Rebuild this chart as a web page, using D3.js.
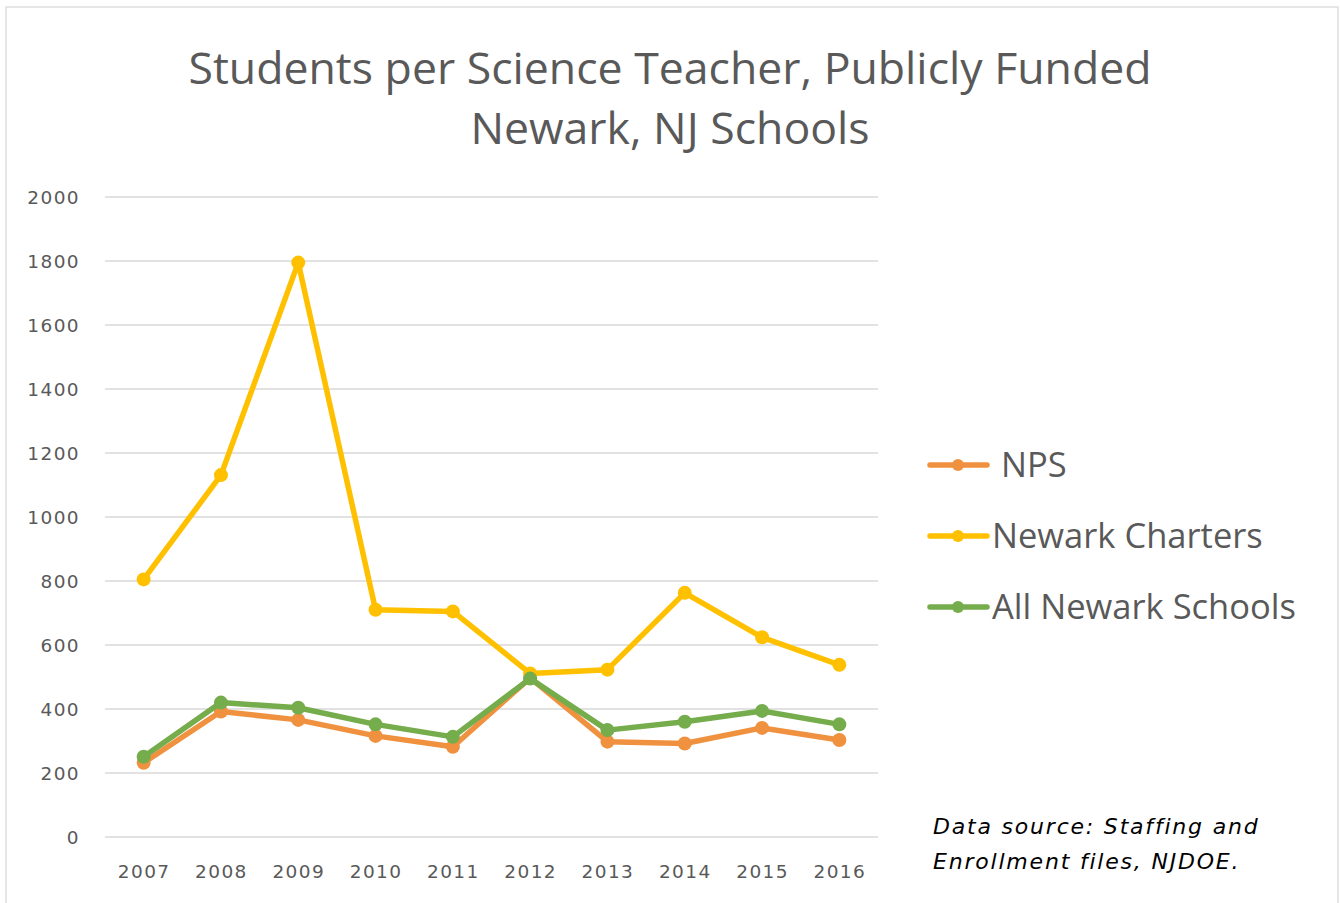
<!DOCTYPE html>
<html>
<head>
<meta charset="utf-8">
<script src="https://cdn.jsdelivr.net/npm/d3@7"></script>
<style>
  body { margin: 0; background: #fff; }
  .grid line { stroke: #d9d9d9; stroke-width: 1.3; }
  .axis text { fill: #595959; font-family: "DejaVu Sans", sans-serif; font-size: 18.5px; letter-spacing: 1.4px; }
</style>
</head>
<body>
<div id="chart"></div>
<script>
var years = ["2007", "2008", "2009", "2010", "2011", "2012", "2013", "2014", "2015", "2016"];
var yTicks = [0, 200, 400, 600, 800, 1000, 1200, 1400, 1600, 1800, 2000];
var nps = [232, 392, 366, 316, 282, 497, 298, 292, 341, 303];
var charters = [805, 1131, 1795, 710, 705, 511, 523, 763, 624, 538];
var allNewark = [251, 420, 404, 352, 313, 495, 334, 360, 394, 352];
var seriesNames = ["NPS", "Newark Charters", "All Newark Schools"];
var seriesColors = ["#F0913F", "#FFC000", "#75AC4C"];

var W = 1340, H = 903;
var margin = {top: 197, left: 105, right: 462, bottom: 66};
var width = W - margin.left - margin.right,
    height = H - margin.top - margin.bottom;

var svg = d3.select("#chart").append("svg")
  .attr("width", W)
  .attr("height", H);

/* outer chart border */
svg.append("rect")
  .attr("x", 6).attr("y", 7)
  .attr("width", 1332).attr("height", 905)
  .attr("fill", "none")
  .attr("stroke", "#d9d9d9")
  .attr("stroke-width", 1.3);

svg.append("text")
  .attr("x", 670).attr("y", 84)
  .attr("text-anchor", "middle")
  .attr("fill", "#595959")
  .style("font-family", "'Open Sans', sans-serif")
  .style("font-size", "44.6px")
  .text("Students per Science Teacher, Publicly Funded");
svg.append("text")
  .attr("x", 670).attr("y", 144)
  .attr("text-anchor", "middle")
  .attr("fill", "#595959")
  .style("font-family", "'Open Sans', sans-serif")
  .style("font-size", "44.6px")
  .text("Newark, NJ Schools");

var g = svg.append("g")
  .attr("transform", "translate(" + margin.left + "," + margin.top + ")");

var x = d3.scalePoint().domain(years).range([0, width]).padding(0.5),
    y = d3.scaleLinear().domain([0, 2000]).range([height, 0]);

g.append("g")
  .attr("class", "grid")
  .selectAll("line")
  .data(yTicks)
  .enter().append("line")
    .attr("x1", 0).attr("x2", width)
    .attr("y1", function(d) { return y(d); })
    .attr("y2", function(d) { return y(d); });

var yAxis = d3.axisLeft(y).tickValues(yTicks).tickFormat(d3.format("d"))
  .tickSize(0).tickPadding(25);
g.append("g").attr("class", "axis axis--y").call(yAxis)
  .call(function(s) { s.select(".domain").remove(); })
  .selectAll("text").attr("dy", "0.35em");

var xAxis = d3.axisBottom(x).tickSize(0).tickPadding(28);
g.append("g").attr("class", "axis axis--x")
  .attr("transform", "translate(0," + height + ")")
  .call(xAxis)
  .call(function(s) { s.select(".domain").remove(); });

var line = d3.line()
  .x(function(d, i) { return x(years[i]); })
  .y(function(d) { return y(d); });

var allSeries = [nps, charters, allNewark];
/* draw in order so green sits on top like the original */
[0, 1, 2].forEach(function(k) {
  g.append("path")
    .datum(allSeries[k])
    .attr("fill", "none")
    .attr("stroke", seriesColors[k])
    .attr("stroke-width", 5.5)
    .attr("stroke-linejoin", "round")
    .attr("d", line);
  g.selectAll(".pt" + k)
    .data(allSeries[k])
    .enter().append("circle")
      .attr("class", "pt" + k)
      .attr("cx", function(d, i) { return x(years[i]); })
      .attr("cy", function(d) { return y(d); })
      .attr("r", 7)
      .attr("fill", seriesColors[k]);
});

/* legend */
var legendY = [465, 536, 607],
    legendTextX = [1001, 992, 992];
var lg = svg.append("g");
seriesNames.forEach(function(name, i) {
  lg.append("line")
    .attr("x1", 930).attr("x2", 987)
    .attr("y1", legendY[i]).attr("y2", legendY[i])
    .attr("stroke", seriesColors[i])
    .attr("stroke-width", 5.5)
    .attr("stroke-linecap", "round");
  lg.append("circle")
    .attr("cx", 958).attr("cy", legendY[i])
    .attr("r", 6)
    .attr("fill", seriesColors[i]);
  lg.append("text")
    .attr("x", legendTextX[i]).attr("y", legendY[i])
    .attr("dy", "0.36em")
    .attr("fill", "#595959")
    .style("font-family", "'Open Sans', sans-serif")
    .style("font-size", "34.5px")
    .text(name);
});

var src = svg.append("text")
  .attr("fill", "#000")
  .style("font-family", "'DejaVu Sans', sans-serif")
  .style("font-style", "italic")
  .style("font-size", "22px")
  .style("letter-spacing", "1.8px");
src.append("tspan").attr("x", 933).attr("y", 834).text("Data source: Staffing and");
src.append("tspan").attr("x", 933).attr("y", 869).text("Enrollment files, NJDOE.");
</script>
</body>
</html>
